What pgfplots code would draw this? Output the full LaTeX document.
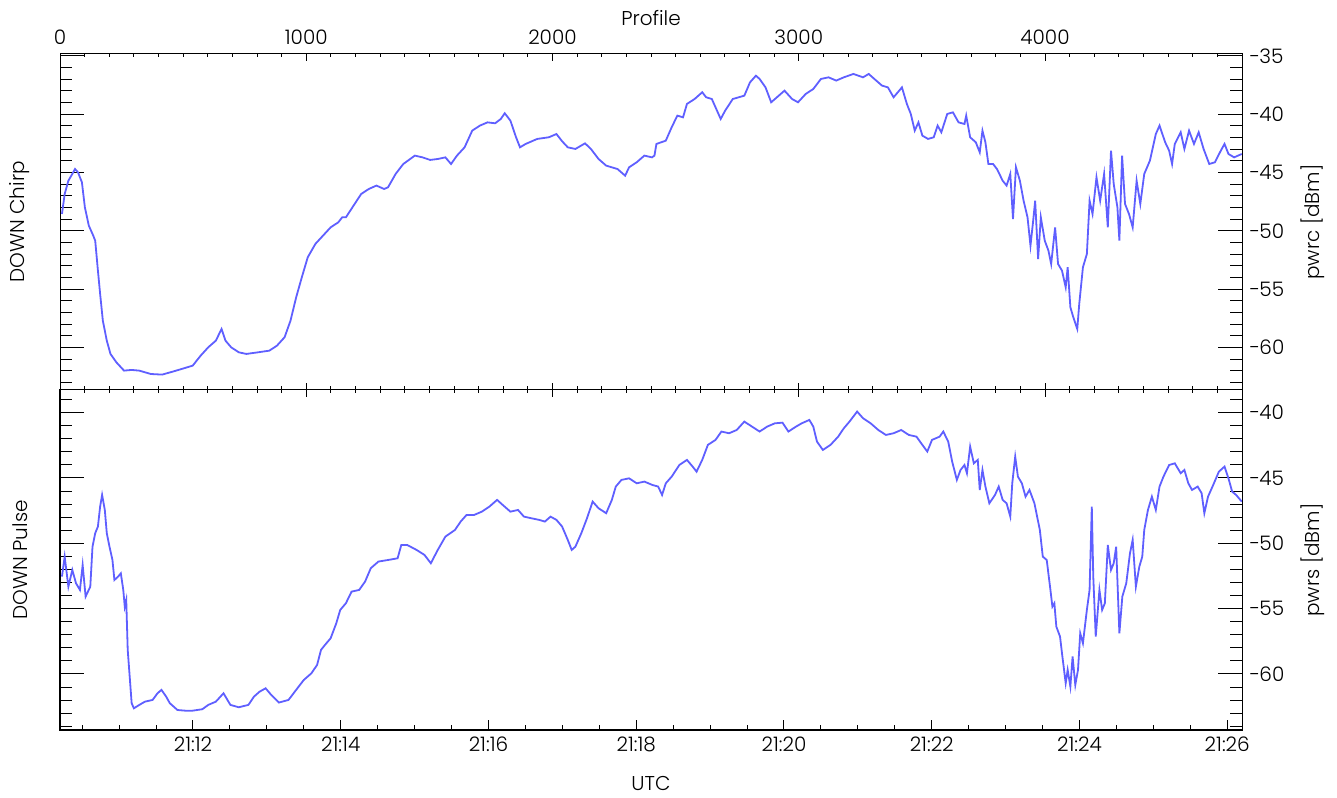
\documentclass[border=0pt]{standalone}
\usepackage{fontspec}
\setmainfont{Poppins}[UprightFont={* Light}]
\usepackage{pgfplots}
\pgfplotsset{compat=1.18}
\definecolor{trace}{RGB}{95,95,255}
\pgfplotsset{
  panel/.style={scale only axis, width=591pt, xmin=0, xmax=4800, anchor=south west,
    axis line style={line width=0.5pt}, tick style={line width=0.5pt, black},
    tick align=inside, clip mode=individual, font=\fontsize{10}{12}\selectfont,
    tick label style={font=\fontsize{10}{12}\selectfont}},
}
\begin{document}
\begin{tikzpicture}
\path[use as bounding box] (-30pt,-33.5pt) rectangle (638.5pt,365pt);
% ---------------- top panel: y axis and data ----------------
\begin{axis}[panel, at={(0pt,170pt)}, height=168pt, ymin=-63.63, ymax=-34.83,
  xtick=\empty, ytick={-60,-55,-50,-45,-40,-35},
  yticklabels={−60,−55,−50,−45,−40,−35},
  minor ytick={-63,-62,...,-35}, ytick pos=both, yticklabel pos=right,
  major tick length=12pt, minor tick length=6pt]
\addplot[trace, line width=0.9pt] coordinates {
(8,-48.54)(19,-46.83)(34,-45.69)(50,-45.11)(61,-44.69)(73,-44.97)(89,-45.83)(101,-47.97)
(117,-49.54)(135,-50.40)(143,-50.83)(154,-53.40)(163,-55.40)(174,-57.69)(190,-59.40)(205,-60.54)
(229,-61.26)(260,-61.97)(291,-61.91)(322,-61.97)(369,-62.26)(415,-62.31)(462,-62.03)(508,-61.74)
(539,-61.54)(571,-60.69)(602,-59.97)(633,-59.40)(656,-58.40)(672,-59.40)(695,-59.97)(726,-60.40)
(757,-60.54)(804,-60.40)(850,-60.26)(881,-59.83)(912,-59.11)(936,-57.69)(959,-55.69)(982,-53.97)
(1006,-52.26)(1037,-51.11)(1068,-50.40)(1099,-49.69)(1130,-49.26)(1146,-48.83)(1161,-48.83)(1192,-47.83)
(1223,-46.83)(1254,-46.40)(1285,-46.11)(1316,-46.40)(1332,-46.26)(1363,-45.11)(1394,-44.26)(1441,-43.54)
(1472,-43.69)(1503,-43.91)(1534,-43.83)(1565,-43.69)(1588,-44.26)(1612,-43.54)(1643,-42.83)(1674,-41.40)
(1705,-40.97)(1736,-40.69)(1767,-40.77)(1790,-40.40)(1806,-39.91)(1829,-40.54)(1852,-41.97)(1868,-42.83)
(1891,-42.54)(1938,-42.11)(1985,-41.97)(2016,-41.69)(2039,-42.31)(2062,-42.83)(2093,-42.97)(2132,-42.49)
(2156,-42.97)(2187,-43.83)(2218,-44.40)(2264,-44.69)(2295,-45.26)(2311,-44.54)(2342,-44.11)(2373,-43.54)
(2404,-43.69)(2414,-43.54)(2422,-42.54)(2460,-42.26)(2484,-41.11)(2507,-40.11)(2530,-40.26)(2546,-39.11)
(2577,-38.69)(2608,-38.11)(2624,-38.54)(2647,-38.69)(2662,-39.40)(2683,-40.40)(2701,-39.69)(2732,-38.69)
(2779,-38.40)(2802,-37.26)(2826,-36.69)(2841,-36.97)(2865,-37.69)(2888,-38.97)(2919,-38.40)(2942,-37.97)
(2973,-38.69)(2997,-38.97)(3028,-38.26)(3059,-37.83)(3090,-36.97)(3121,-36.83)(3152,-37.11)(3183,-36.83)
(3222,-36.54)(3261,-36.83)(3284,-36.54)(3307,-36.97)(3338,-37.54)(3362,-37.69)(3385,-38.54)(3408,-37.97)
(3419,-37.69)(3439,-39.11)(3455,-39.97)(3471,-41.40)(3486,-40.69)(3502,-41.83)(3525,-42.11)(3548,-41.97)
(3564,-40.97)(3579,-41.54)(3603,-39.97)(3626,-39.83)(3649,-40.69)(3673,-40.83)(3680,-40.11)(3696,-41.97)
(3719,-42.40)(3735,-43.26)(3746,-41.40)(3758,-42.40)(3770,-44.26)(3789,-44.26)(3805,-44.69)(3828,-45.69)
(3844,-46.11)(3859,-45.11)(3870,-48.97)(3882,-44.54)(3898,-45.69)(3913,-47.40)(3929,-48.83)(3941,-51.26)
(3952,-49.11)(3960,-47.40)(3972,-52.40)(3983,-48.83)(3999,-50.83)(4014,-51.69)(4025,-52.83)(4041,-49.69)
(4053,-52.83)(4069,-53.40)(4084,-54.83)(4092,-53.11)(4103,-56.54)(4115,-57.40)(4131,-58.40)(4139,-56.26)
(4154,-53.11)(4170,-51.97)(4181,-47.40)(4193,-48.54)(4209,-45.40)(4224,-47.40)(4240,-45.11)(4255,-49.69)
(4268,-43.11)(4279,-45.97)(4294,-47.97)(4302,-50.83)(4313,-43.54)(4325,-47.69)(4341,-48.54)(4356,-49.69)
(4372,-45.69)(4387,-47.69)(4403,-45.11)(4426,-43.97)(4450,-41.69)(4465,-40.97)(4488,-42.40)(4504,-43.11)
(4516,-44.26)(4527,-42.54)(4551,-41.54)(4566,-42.97)(4585,-41.40)(4605,-42.54)(4624,-41.54)(4644,-42.97)
(4667,-44.26)(4690,-44.11)(4714,-43.11)(4729,-42.54)(4745,-43.40)(4768,-43.69)(4799,-43.40)
};
\node[rotate=90] at (axis description cs:-0.0338,0.5) {DOWN Chirp};
\node[rotate=90] at (axis description cs:1.0601,0.5) {pwrc [dBm]};
\end{axis}
% ---------------- top panel: profile ticks ----------------
\begin{axis}[panel, at={(0pt,170pt)}, height=168pt, ymin=0, ymax=1, ytick=\empty,
  xtick={0,1000,2000,3000,4000}, xticklabels={0,1000,2000,3000,4000},
  minor xtick={0,100,...,4800}, xtick pos=both, xticklabel pos=upper,
  major tick length=3.5pt, minor tick length=1.75pt,
  xticklabel style={yshift=1pt},
  xlabel={Profile}, xlabel style={at={(axis description cs:0.5,1)}, anchor=center, yshift=18pt}]
\end{axis}
% ---------------- bottom panel: y axis and data ----------------
\begin{axis}[panel, at={(0pt,0pt)}, height=170pt, ymin=-64.29, ymax=-38.27,
  xtick=\empty, ytick={-60,-55,-50,-45,-40},
  yticklabels={−60,−55,−50,−45,−40},
  minor ytick={-64,-63,...,-39}, ytick pos=both, yticklabel pos=right,
  major tick length=12pt, minor tick length=6pt]
\addplot[trace, line width=0.9pt] coordinates {
(8,-52.55)(19,-51.02)(34,-53.32)(50,-52.04)(65,-53.06)(81,-53.57)(92,-51.66)(104,-54.08)
(123,-53.32)(132,-50.26)(143,-49.23)(154,-48.72)(163,-47.19)(171,-46.30)(182,-47.45)(190,-49.23)
(201,-50.26)(213,-51.28)(221,-52.81)(236,-52.55)(247,-52.30)(257,-53.57)(263,-54.85)(269,-54.34)
(275,-58.16)(283,-60.20)(291,-62.24)(300,-62.63)(322,-62.37)(345,-62.12)(376,-61.99)(396,-61.48)
(412,-61.22)(431,-61.73)(446,-62.24)(477,-62.76)(508,-62.81)(539,-62.81)(578,-62.70)(602,-62.37)
(633,-62.12)(664,-61.48)(692,-62.37)(726,-62.55)(765,-62.37)(788,-61.73)(811,-61.35)(835,-61.10)
(858,-61.61)(889,-62.19)(928,-61.99)(959,-61.22)(990,-60.46)(1021,-59.95)(1044,-59.31)(1060,-58.16)
(1076,-57.78)(1099,-57.27)(1122,-56.12)(1138,-55.10)(1161,-54.59)(1184,-53.70)(1215,-53.57)(1239,-52.93)
(1262,-51.91)(1293,-51.40)(1332,-51.28)(1371,-51.15)(1386,-50.13)(1410,-50.13)(1448,-50.51)(1480,-50.89)
(1506,-51.53)(1534,-50.51)(1565,-49.49)(1604,-48.98)(1627,-48.34)(1651,-47.83)(1682,-47.83)(1713,-47.58)
(1744,-47.19)(1775,-46.68)(1798,-47.07)(1829,-47.58)(1860,-47.45)(1884,-47.96)(1915,-48.09)(1946,-48.21)
(1969,-48.34)(1992,-47.96)(2016,-48.21)(2039,-48.72)(2062,-49.74)(2078,-50.51)(2093,-50.26)(2117,-49.23)
(2140,-48.09)(2163,-46.81)(2187,-47.32)(2218,-47.70)(2241,-46.68)(2257,-45.66)(2280,-45.15)(2311,-45.03)
(2342,-45.41)(2373,-45.28)(2406,-45.54)(2429,-45.66)(2445,-46.30)(2460,-45.41)(2484,-44.90)(2515,-44.01)
(2546,-43.62)(2569,-44.13)(2585,-44.52)(2608,-43.62)(2631,-42.47)(2662,-42.09)(2686,-41.45)(2717,-41.58)
(2748,-41.33)(2779,-40.69)(2810,-41.07)(2841,-41.45)(2872,-41.07)(2903,-40.82)(2934,-40.77)(2958,-41.45)
(2989,-41.07)(3012,-40.82)(3043,-40.56)(3059,-41.07)(3074,-42.22)(3098,-42.86)(3129,-42.47)(3160,-41.84)
(3183,-41.20)(3206,-40.69)(3237,-39.92)(3261,-40.43)(3292,-40.82)(3323,-41.33)(3354,-41.71)(3385,-41.58)
(3416,-41.33)(3447,-41.71)(3478,-41.84)(3502,-42.47)(3522,-42.98)(3541,-42.09)(3572,-41.84)(3587,-41.45)
(3607,-42.22)(3623,-43.75)(3642,-45.15)(3657,-44.39)(3673,-44.01)(3683,-44.64)(3696,-42.60)(3711,-43.88)
(3727,-43.62)(3735,-45.92)(3746,-44.39)(3758,-45.66)(3774,-46.94)(3797,-46.30)(3812,-45.66)(3828,-46.68)
(3844,-46.94)(3859,-47.96)(3867,-45.41)(3879,-43.37)(3890,-44.90)(3906,-45.41)(3921,-46.43)(3937,-45.92)
(3957,-46.94)(3968,-47.96)(3979,-48.98)(3991,-51.02)(4007,-51.28)(4022,-53.57)(4030,-54.85)(4038,-54.59)
(4046,-56.38)(4061,-57.14)(4069,-58.42)(4084,-60.71)(4092,-59.69)(4103,-60.97)(4112,-58.67)(4123,-60.84)
(4134,-59.69)(4143,-56.89)(4154,-57.65)(4170,-55.10)(4181,-53.57)(4190,-47.19)(4196,-52.55)(4206,-57.14)
(4221,-53.57)(4232,-55.10)(4243,-54.59)(4255,-50.13)(4268,-52.04)(4279,-51.53)(4289,-50.26)(4302,-56.89)
(4314,-54.08)(4330,-53.06)(4345,-50.77)(4356,-49.74)(4369,-53.32)(4383,-51.79)(4395,-51.02)(4403,-48.98)
(4418,-47.45)(4434,-46.43)(4450,-47.45)(4465,-45.66)(4481,-44.90)(4504,-44.01)(4527,-43.88)(4551,-44.64)
(4566,-44.39)(4582,-45.41)(4597,-45.92)(4620,-45.66)(4636,-46.17)(4647,-47.70)(4662,-46.43)(4683,-45.54)
(4706,-44.52)(4729,-44.13)(4745,-45.03)(4760,-46.05)(4776,-46.30)(4799,-46.81)
};
\node[rotate=90] at (axis description cs:-0.0338,0.5) {DOWN Pulse};
\node[rotate=90] at (axis description cs:1.0601,0.5) {pwrs [dBm]};
\end{axis}
% ---------------- bottom panel: profile ticks on top ----------------
\begin{axis}[panel, at={(0pt,0pt)}, height=170pt, ymin=0, ymax=1, ytick=\empty,
  xtick={0,1000,2000,3000,4000}, xticklabels=\empty,
  minor xtick={0,100,...,4800}, xtick pos=upper,
  major tick length=3.5pt, minor tick length=1.75pt]
\end{axis}
% ---------------- bottom panel: UTC ticks ----------------
\begin{axis}[panel, at={(0pt,0pt)}, height=170pt, ymin=0, ymax=1, ytick=\empty,
  xtick={540,1140,1740,2340,2940,3540,4140,4740},
  xticklabels={21:12,21:14,21:16,21:18,21:20,21:22,21:24,21:26},
  minor xtick={90,240,...,4790}, xtick pos=lower,
  major tick length=5pt, minor tick length=2.5pt,
  xlabel={UTC}, xlabel style={at={(axis description cs:0.5,0)}, anchor=center, yshift=-26.5pt}]
\end{axis}
\end{tikzpicture}
\end{document}
